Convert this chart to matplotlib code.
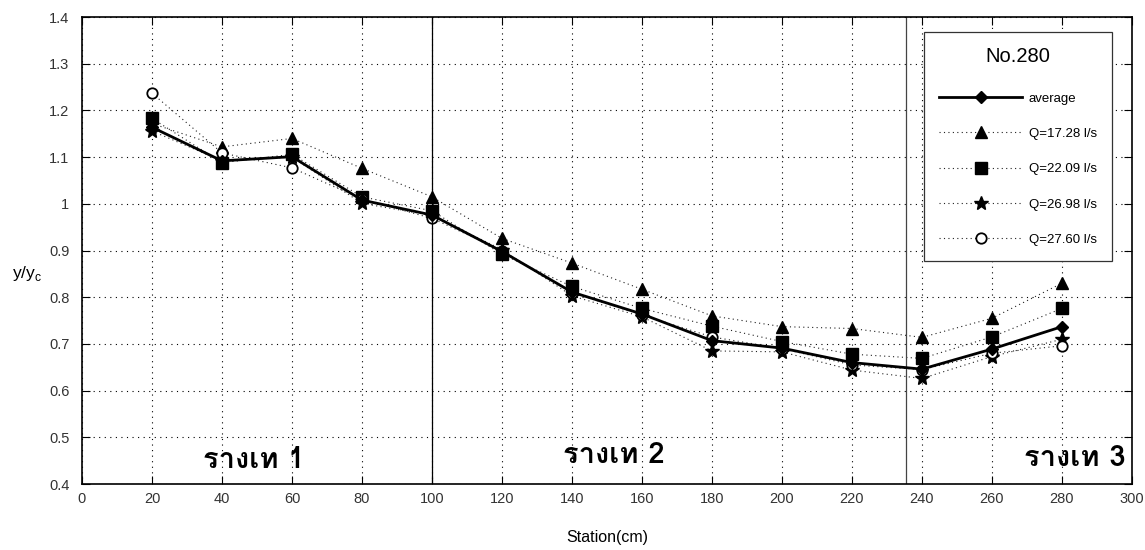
import matplotlib
matplotlib.use("Agg")
import matplotlib.pyplot as plt
from matplotlib import font_manager
from matplotlib.ft2font import FT2Font

station = [20, 40, 60, 80, 100, 120, 140, 160, 180, 200, 220, 240, 260, 280]

avg = [1.164, 1.092, 1.101, 1.008, 0.976, 0.898, 0.811, 0.764, 0.707, 0.691, 0.660, 0.646, 0.689, 0.737]
q1728 = [1.172, 1.122, 1.140, 1.076, 1.015, 0.926, 0.873, 0.817, 0.760, 0.737, 0.733, 0.714, 0.755, 0.830]
q2209 = [1.183, 1.088, 1.106, 1.015, 0.985, 0.892, 0.823, 0.776, 0.738, 0.705, 0.678, 0.669, 0.715, 0.776]
q2698 = [1.156, 1.092, 1.100, 1.001, 0.975, 0.902, 0.803, 0.758, 0.685, 0.683, 0.644, 0.626, 0.673, 0.710]
q2760 = [1.237, 1.109, 1.077, 1.010, 0.969, 0.900, 0.810, 0.762, 0.715, 0.690, 0.655, 0.645, 0.680, 0.696]

series_labels = ['average', 'Q=17.28 l/s', 'Q=22.09 l/s', 'Q=26.98 l/s', 'Q=27.60 l/s']
zone_labels = ['รางเท 1', 'รางเท 2', 'รางเท 3']


def thai_family():
    # first installed font that actually has Thai glyphs
    for f in font_manager.fontManager.ttflist:
        try:
            if ord('ร') in FT2Font(f.fname).get_charmap():
                return f.name
        except Exception:
            pass
    return 'DejaVu Sans'


plt.rcParams['font.family'] = ['Liberation Sans', 'DejaVu Sans']
plt.rcParams['mathtext.fontset'] = 'custom'
plt.rcParams['mathtext.rm'] = 'Liberation Sans'

fig = plt.figure(figsize=(11.45, 5.5), dpi=100)
ax = fig.add_axes([0.0716, 0.12, 0.9170, 0.849])

dots = (0, (1, 3))
ax.plot(station, q1728, color='#222222', lw=0.8, ls=dots, marker='^', ms=8.5,
        mfc='black', mec='black', label=series_labels[1])
ax.plot(station, q2209, color='#222222', lw=0.8, ls=dots, marker='s', ms=8,
        mfc='black', mec='black', label=series_labels[2])
ax.plot(station, q2698, color='#222222', lw=0.8, ls=dots, marker='*', ms=10,
        mfc='black', mec='black', label=series_labels[3])
ax.plot(station, q2760, color='#222222', lw=0.8, ls=dots, marker='o', ms=7.5,
        mfc='white', mec='black', mew=1.3, label=series_labels[4])
ax.plot(station, avg, color='black', lw=2, marker='D', ms=6, label=series_labels[0], zorder=5)

ax.set_xlim(0, 300)
ax.set_ylim(0.4, 1.4)
ax.set_xticks(range(0, 301, 20))
ax.set_yticks([0.4, 0.5, 0.6, 0.7, 0.8, 0.9, 1.0, 1.1, 1.2, 1.3, 1.4])
ax.set_yticklabels(['0.4', '0.5', '0.6', '0.7', '0.8', '0.9', '1', '1.1', '1.2', '1.3', '1.4'])
ax.grid(True, color='black', lw=0.8, ls=(0, (1, 4)))
ax.tick_params(direction='in', length=6, top=True, right=True, labelsize=10.5,
               labelcolor='#333333')
ax.tick_params(axis='x', pad=6)
ax.tick_params(axis='y', pad=9)
for s in ax.spines.values():
    s.set_linewidth(1.2)

# zone boundaries
ax.axvline(100, color='black', lw=0.9)
ax.axvline(235.5, color='#444444', lw=0.9)

tf = thai_family()
ax.text(49, 0.452, zone_labels[0], ha='center', va='center', fontsize=21,
        fontweight='bold', family=[tf, 'DejaVu Sans'])
ax.text(152, 0.462, zone_labels[1], ha='center', va='center', fontsize=21,
        fontweight='bold', family=[tf, 'DejaVu Sans'])
ax.text(298.3, 0.456, zone_labels[2], ha='right', va='center', fontsize=21,
        fontweight='bold', family=[tf, 'DejaVu Sans'])

ax.set_xlabel('Station(cm)', fontsize=11.5)
ax.xaxis.set_label_coords(0.5, -0.098)
ax.set_ylabel(r'y/y$_\mathregular{c}$', fontsize=12.5, rotation=0, va='center')
ax.yaxis.set_label_coords(-0.052, 0.45)

h, l = ax.get_legend_handles_labels()
order = [4, 0, 1, 2, 3]
leg = ax.legend([h[i] for i in order], [l[i] for i in order], title='No.280',
                loc='upper right', bbox_to_anchor=(0.981, 0.968), borderaxespad=0,
                fontsize=9.5, title_fontsize=14.5, handlelength=6.3, handletextpad=0.5,
                labelspacing=1.75, borderpad=1.15, fancybox=False, framealpha=1,
                edgecolor='#333333')
leg.get_frame().set_linewidth(0.9)
leg._legend_box.sep = 19

fig.savefig('out.png', dpi=100)
